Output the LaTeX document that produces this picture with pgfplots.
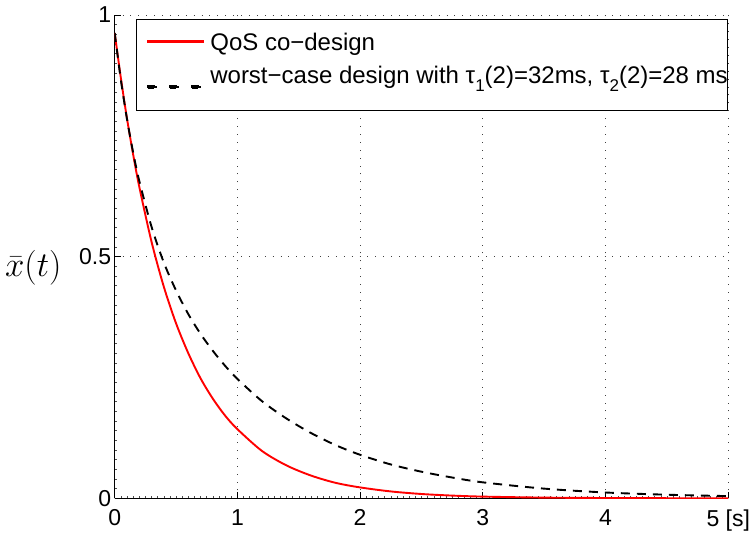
\documentclass[border=0pt]{standalone}
\usepackage{graphicx}
\usepackage[no-math]{fontspec}
\setmainfont{Liberation Sans}
\usepackage{pgfplots}
\usepackage{pgfplotstable}
\pgfplotsset{compat=1.18}
\pgfplotsset{
  redleg/.style={legend image code/.code={\path (0pt,0pt); \fill[fill=red] (11pt,5.8pt) rectangle (66pt,7.7pt);}},
  blackleg/.style={legend image code/.code={\path (0pt,0pt);
      \fill[fill=black] (11pt,-6.95pt) rectangle (20pt,-5.05pt);
      \fill[fill=black] (33pt,-6.95pt) rectangle (42pt,-5.05pt);
      \fill[fill=black] (55pt,-6.95pt) rectangle (64pt,-5.05pt);}},
}
\newcommand\sub[1]{\raisebox{-0.32em}{\fontsize{17}{17}\selectfont #1}}

\pgfplotstableread{
t r
0 0.963
0.05 0.870
0.1 0.786
0.15 0.712
0.2 0.645
0.3 0.531
0.4 0.438
0.5 0.362
0.6 0.300
0.7 0.248
0.8 0.206
0.9 0.171
1.0 0.143
1.2 0.098
1.4 0.068
1.6 0.047
1.8 0.032
2.0 0.0225
2.25 0.0142
2.5 0.0089
2.75 0.0056
3.0 0.0035
3.5 0.0014
4.0 0.0006
4.5 0.0002
5.0 0.0001
}\qosdata

\pgfplotstableread{
t b
0 0.963
0.05 0.866
0.1 0.785
0.15 0.716
0.2 0.657
0.3 0.562
0.4 0.488
0.5 0.430
0.6 0.381
0.7 0.340
0.8 0.305
0.9 0.274
1.0 0.247
1.2 0.201
1.4 0.165
1.6 0.135
1.8 0.110
2.0 0.090
2.25 0.070
2.5 0.055
2.75 0.043
3.0 0.033
3.5 0.020
4.0 0.012
4.5 0.0074
5.0 0.0045
}\worstdata

\begin{document}
\begin{tikzpicture}
\begin{axis}[
  scale only axis,
  width=613.6pt, height=483.3pt,
  at={(0pt,0pt)}, anchor=south west,
  xmin=0, xmax=5, ymin=0, ymax=1,
  axis x line*=bottom, axis y line*=left,
  axis line style={-, black, line width=1pt},
  xtick={0,1,2,3,4,5}, xticklabels={0,1,2,3,4,5 [s]},
  ytick={0,0.5,1}, yticklabels={0,0.5,1},
  minor x tick num=19, minor y tick num=24,
  tick align=inside,
  major tick length=6pt, minor tick length=2pt,
  major tick style={black, line width=0.8pt},
  minor tick style={black!70, line width=0.5pt},
  grid=major,
  major grid style={black!75, line width=0.9pt, dash pattern=on 0.9pt off 7pt},
  /pgf/number format/assume math mode=true,
  ticklabel style={font=\fontsize{23}{27}\selectfont},
  xticklabel style={yshift=-8pt},
  ylabel={\scalebox{1.4}{$\bar{x}(t)$}},
  every axis y label/.style={at={(axis description cs:-0.081,0.4765)}, anchor=east, font=\fontsize{24.88}{30}\selectfont},
  legend cell align=left,
  legend style={at={(axis description cs:0.0342,0.9917)}, anchor=north west,
    draw=black, line width=0.9pt, fill=white,
    font=\fontsize{24}{28}\selectfont,
    inner xsep=0pt, inner ysep=13pt, row sep=1.5pt, column sep=6.3pt,
    nodes={inner sep=0pt, text height=18pt, text depth=13.5pt}},
]
\addplot[color=red, line width=1.9pt, smooth, redleg]
  table[x=t, y=r] {\qosdata};
\addlegendentry{QoS co−design}
\addplot[black, line width=1.9pt, smooth, dash pattern=on 9pt off 7pt, blackleg]
  table[x=t, y=b] {\worstdata};
\addlegendentry{worst−case design with τ\sub{1}(2)=32ms, τ\sub{2}(2)=28 ms}
\end{axis}
\pgfresetboundingbox
\path[use as bounding box] (-114.7pt,-39.7pt) rectangle (638.3pt,498.3pt);
\end{tikzpicture}
\end{document}
